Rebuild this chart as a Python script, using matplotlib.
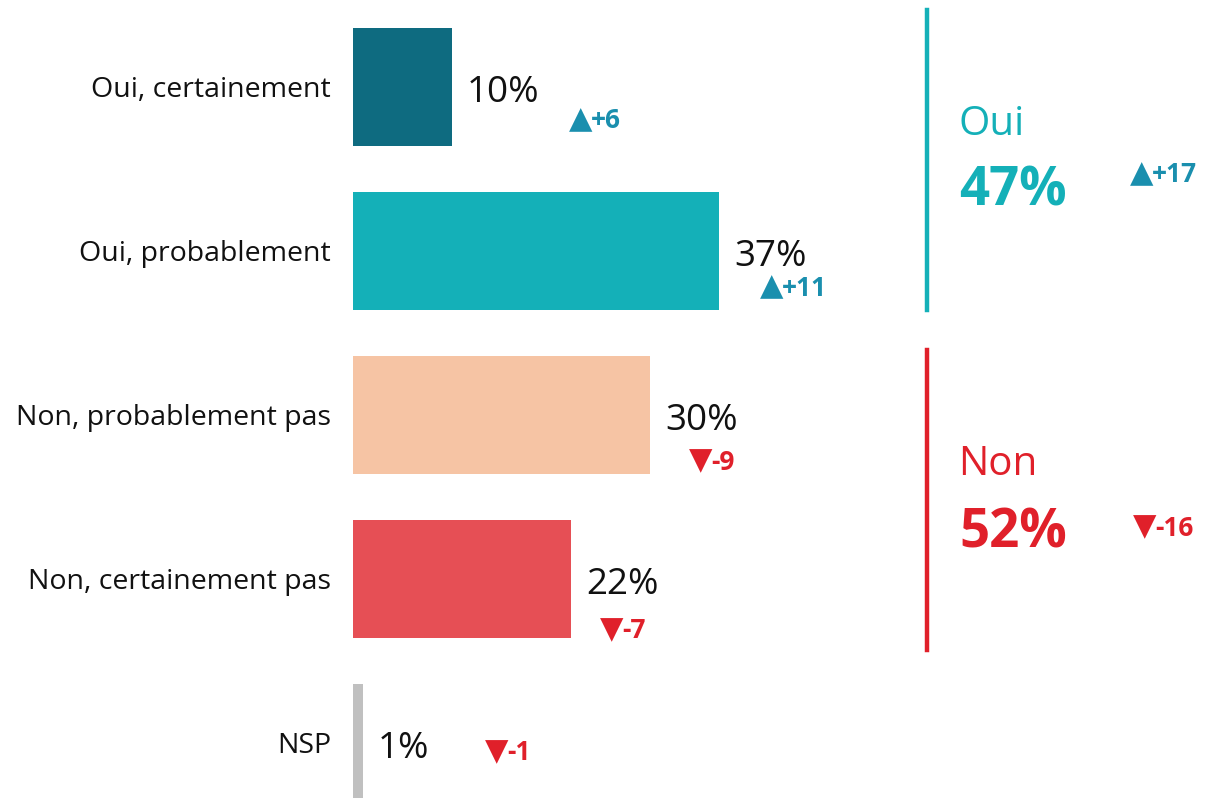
import matplotlib
matplotlib.use("Agg")
import matplotlib.pyplot as plt

categories = ["Oui, certainement", "Oui, probablement", "Non, probablement pas",
              "Non, certainement pas", "NSP"]
values = [10, 37, 30, 22, 1]
changes = [6, 11, -9, -7, -1]
bar_colors = ["#0e6b80", "#14b0b8", "#f6c4a4", "#e64f55", "#c0c0c0"]

group_names = ["Oui", "Non"]
group_values = [47, 52]
group_changes = [17, -16]
group_colors = ["#14b0b8", "#e0202a"]

UP = "#1a8fae"
DOWN = "#e0202a"
W, H = 1206, 798
PX_PER_PCT = 9.9
PT = 72 / 100  # points per pixel at dpi 100

# change-label offsets from bar end / bar centre, in pixels
change_offsets = [(117, 34), (41, 37), (39, 47), (29, 52), (122, 10)]

plt.rcParams["font.family"] = ["Open Sans", "DejaVu Sans"]

fig = plt.figure(figsize=(W / 100, H / 100), dpi=100)
left = 353
ax = fig.add_axes([left / W, 0, (W - left) / W, 1])
ax.set_xlim(0, (W - left) / PX_PER_PCT)
ax.set_ylim((H - 87) / 164, -87 / 164)
ax.axis("off")

ypos = list(range(len(categories)))
ax.barh(ypos, values, height=118 / 164, color=bar_colors, left=0)


def draw_change(ch, xy, dx, dy, **kw):
    # triangle glyph drawn a bit larger than the number, as in the original
    col = UP if ch > 0 else DOWN
    sym = "▲" if ch > 0 else "▼"
    num = f"+{ch}" if ch > 0 else f"{ch}"
    ax.annotate(sym, xy, xytext=(dx * PT, -(dy - 1) * PT), textcoords="offset points",
                ha="left", va="center", fontsize=22, color=col,
                family="DejaVu Sans", **kw)
    ax.annotate(num, xy, xytext=((dx + 22) * PT, -dy * PT), textcoords="offset points",
                ha="left", va="center", fontsize=19, fontweight="bold", color=col, **kw)


for y, name, v, ch, (dx, dy) in zip(ypos, categories, values, changes, change_offsets):
    ax.annotate(name, (0, y), xytext=(-22 * PT, -3 * PT), textcoords="offset points",
                ha="right", va="center", fontsize=20.5, color="#111111")
    ax.annotate(f"{v}%", (v, y), xytext=(15 * PT, -6 * PT), textcoords="offset points",
                ha="left", va="center", fontsize=26.5, color="#111111")
    draw_change(ch, (v, y), dx, dy)

# group brackets on the right (pixel layout)
group_layout = [
    dict(line=(10, 310), name_y=125, pct_y=192, ch_x=1130, ch_y=175),
    dict(line=(350, 650), name_y=465, pct_y=533, ch_x=1133, ch_y=528),
]
for name, v, ch, col, lay in zip(group_names, group_values, group_changes,
                                 group_colors, group_layout):
    y0, y1 = lay["line"]
    fig.add_artist(plt.Line2D([927 / W, 927 / W], [1 - y0 / H, 1 - y1 / H],
                              color=col, lw=3.2))
    fig.text(958 / W, 1 - lay["name_y"] / H, name, ha="left", va="center",
             fontsize=29, color=col)
    fig.text(959 / W, 1 - lay["pct_y"] / H, f"{v}%", ha="left", va="center",
             fontsize=38, fontweight="bold", color=col)
    draw_change(ch, fig.transFigure.inverted().transform((lay["ch_x"], H - lay["ch_y"])),
                0, 0, xycoords="figure fraction")

fig.savefig("out.png", dpi=100)
